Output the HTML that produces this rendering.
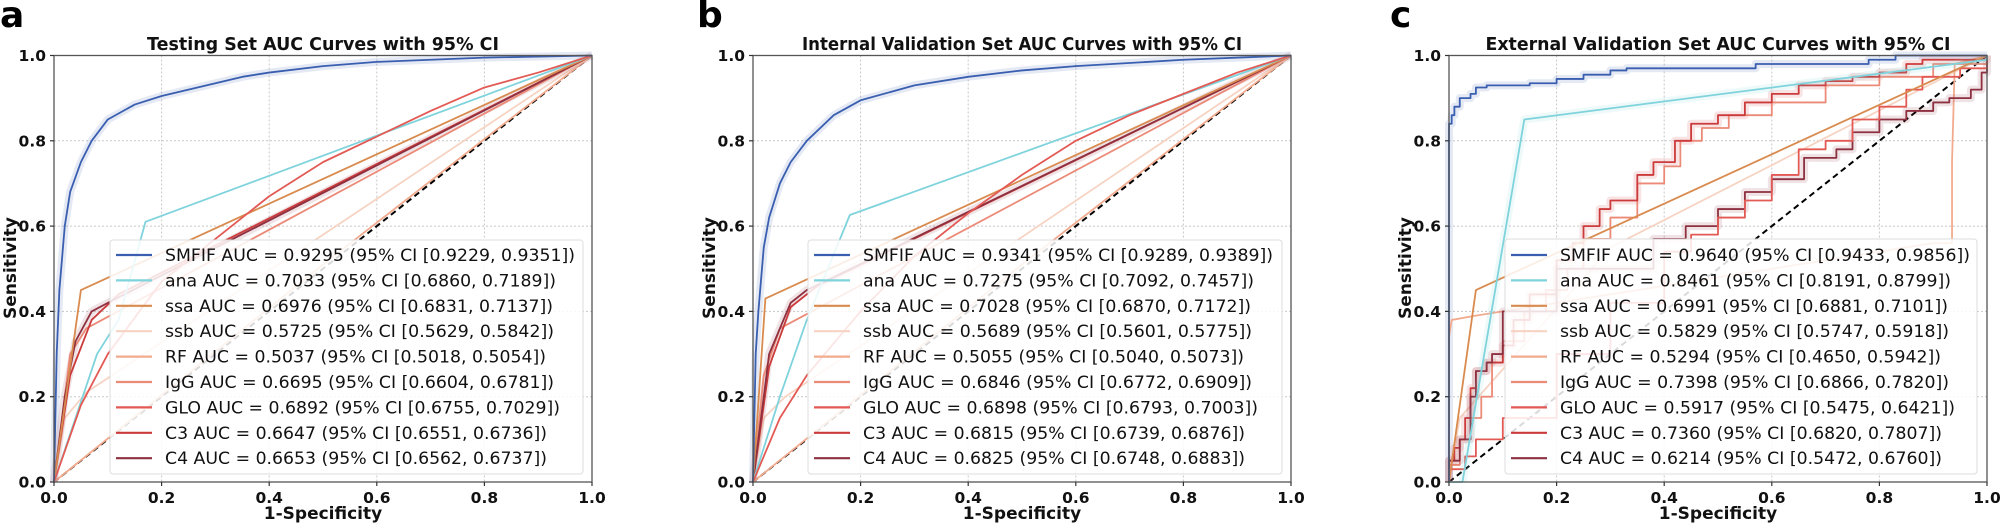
<!DOCTYPE html>
<html><head><meta charset="utf-8"><style>
html,body{margin:0;padding:0;background:#fff;}
svg{display:block;}
text{font-family:"DejaVu Sans","Liberation Sans",sans-serif;}
.tk{font-size:15.5px;font-weight:bold;fill:#111;}
.ti{font-size:18px;font-weight:bold;fill:#111;}
.lb{font-size:17px;font-weight:bold;fill:#111;}
.lg{font-size:16.5px;fill:#111;}
.pl{font-size:36px;font-weight:bold;fill:#000;}
.grid{stroke:#c8c8c8;stroke-width:1;stroke-dasharray:2,2;}
.c path,.c polyline{fill:none;vector-effect:non-scaling-stroke;stroke-linejoin:round;}
.band{stroke-width:8;opacity:0.13;}
.ln{stroke-width:1.8;}
</style></head><body>
<svg width="2000" height="524" viewBox="0 0 2000 524" xmlns="http://www.w3.org/2000/svg">
<defs>
<g id="axes">
  <rect x="0" y="55.5" width="538" height="426.5" fill="#fff"/>
  <g class="grid">
    <line x1="107.6" y1="55.5" x2="107.6" y2="482"/><line x1="215.2" y1="55.5" x2="215.2" y2="482"/>
    <line x1="322.8" y1="55.5" x2="322.8" y2="482"/><line x1="430.4" y1="55.5" x2="430.4" y2="482"/>
    <line x1="0" y1="396.7" x2="538" y2="396.7"/><line x1="0" y1="311.4" x2="538" y2="311.4"/>
    <line x1="0" y1="226.1" x2="538" y2="226.1"/><line x1="0" y1="140.8" x2="538" y2="140.8"/>
  </g>
</g>
<g id="frame">
  <rect x="0" y="55.5" width="538" height="426.5" fill="none" stroke="#555" stroke-width="1.3"/>
  <g stroke="#333" stroke-width="1.2">
    <line x1="0" y1="482" x2="0" y2="486"/><line x1="107.6" y1="482" x2="107.6" y2="486"/><line x1="215.2" y1="482" x2="215.2" y2="486"/><line x1="322.8" y1="482" x2="322.8" y2="486"/><line x1="430.4" y1="482" x2="430.4" y2="486"/><line x1="538" y1="482" x2="538" y2="486"/>
    <line x1="-4" y1="482" x2="0" y2="482"/><line x1="-4" y1="396.7" x2="0" y2="396.7"/><line x1="-4" y1="311.4" x2="0" y2="311.4"/><line x1="-4" y1="226.1" x2="0" y2="226.1"/><line x1="-4" y1="140.8" x2="0" y2="140.8"/><line x1="-4" y1="55.5" x2="0" y2="55.5"/>
  </g>
  <g class="tk" text-anchor="middle">
    <text x="0" y="503">0.0</text><text x="107.6" y="503">0.2</text><text x="215.2" y="503">0.4</text><text x="322.8" y="503">0.6</text><text x="430.4" y="503">0.8</text><text x="538" y="503">1.0</text>
  </g>
  <g class="tk" text-anchor="end">
    <text x="-8" y="487.5">0.0</text><text x="-8" y="402.2">0.2</text><text x="-8" y="316.9">0.4</text><text x="-8" y="231.6">0.6</text><text x="-8" y="146.3">0.8</text><text x="-8" y="61">1.0</text>
  </g>
  <text class="lb" x="269" y="519" text-anchor="middle">1-Specificity</text>
  <text class="lb" transform="translate(-38,268) rotate(-90)" text-anchor="middle">Sensitivity</text>
</g>
<g id="handles">
  <g stroke-width="2.2">
  <line x1="6" y1="255" x2="42" y2="255" stroke="#3a5fb0"/>
  <line x1="6" y1="280.4" x2="42" y2="280.4" stroke="#7fd3dc"/>
  <line x1="6" y1="305.8" x2="42" y2="305.8" stroke="#d98b4f"/>
  <line x1="6" y1="331.2" x2="42" y2="331.2" stroke="#f6d3c2"/>
  <line x1="6" y1="356.6" x2="42" y2="356.6" stroke="#f2ab8e"/>
  <line x1="6" y1="382" x2="42" y2="382" stroke="#ec8a78"/>
  <line x1="6" y1="407.4" x2="42" y2="407.4" stroke="#e35a55"/>
  <line x1="6" y1="432.8" x2="42" y2="432.8" stroke="#cc3b3b"/>
  <line x1="6" y1="458.2" x2="42" y2="458.2" stroke="#8e3040"/>
  </g>
</g>
</defs>

<!-- ================= PANEL A ================= -->
<text class="pl" x="0" y="27">a</text>
<g transform="translate(54,0)">
  <use href="#axes"/>
  <text class="ti" x="269" y="50" text-anchor="middle" textLength="352" lengthAdjust="spacingAndGlyphs">Testing Set AUC Curves with 95% CI</text>
</g>
<g class="c" transform="translate(54,482) scale(538,-426.5)">
  <polyline points="0,0 1,1" stroke="#000" stroke-width="2" style="stroke-dasharray:6,4" vector-effect="non-scaling-stroke"/>
  <polyline class="band" stroke="#3a5fb0" points="0,0 0.005,0.3 0.01,0.45 0.02,0.6 0.03,0.68 0.05,0.75 0.07,0.8 0.1,0.85 0.15,0.885 0.2,0.905 0.25,0.92 0.3,0.935 0.35,0.95 0.4,0.96 0.5,0.975 0.6,0.985 0.7,0.99 0.8,0.995 1,1"/>
  <polyline class="ln" stroke="#f2ab8e" points="0,0 0.5,0.51 1,1"/>
  <polyline class="ln" stroke="#f6d3c2" points="0,0 0.02,0.15 0.06,0.21 1,1"/>
  <polyline class="band" stroke="#8e3040" points="0,0 0.02,0.2 0.04,0.33 0.07,0.4 0.1,0.42 1,1"/>
  <polyline class="ln" stroke="#ec8a78" points="0,0 0.03,0.3 0.06,0.36 1,1"/>
  <polyline class="ln" stroke="#cc3b3b" points="0,0 0.03,0.25 0.07,0.38 0.12,0.44 1,1"/>
  <polyline class="ln" stroke="#8e3040" points="0,0 0.02,0.2 0.04,0.33 0.07,0.4 0.1,0.42 1,1"/>
  <polyline class="ln" stroke="#d98b4f" points="0,0 0.05,0.45 1,1"/>
  <polyline class="ln" stroke="#7fd3dc" points="0,0 0.08,0.3 0.12,0.38 0.17,0.61 1,1"/>
  <polyline class="ln" stroke="#e35a55" points="0,0 0.05,0.18 0.1,0.3 0.2,0.47 0.3,0.57 0.4,0.67 0.5,0.75 0.6,0.81 0.7,0.87 0.8,0.925 0.9,0.96 1,1"/>
  <polyline class="ln" stroke="#3a5fb0" points="0,0 0.005,0.3 0.01,0.45 0.02,0.6 0.03,0.68 0.05,0.75 0.07,0.8 0.1,0.85 0.15,0.885 0.2,0.905 0.25,0.92 0.3,0.935 0.35,0.95 0.4,0.96 0.5,0.975 0.6,0.985 0.7,0.99 0.8,0.995 1,1"/>
</g>
<g transform="translate(54,0)">
  <use href="#frame"/>
  <rect x="56" y="240" width="473" height="234" rx="3" fill="#fff" fill-opacity="0.85" stroke="#ddd"/>
  <g transform="translate(56,0)">
    <use href="#handles"/>
    <g class="lg" lengthAdjust="spacingAndGlyphs">
      <text x="55" y="261" textLength="410" lengthAdjust="spacingAndGlyphs">SMFIF AUC = 0.9295 (95% CI [0.9229, 0.9351])</text>
      <text x="55" y="286.4" textLength="391" lengthAdjust="spacingAndGlyphs">ana AUC = 0.7033 (95% CI [0.6860, 0.7189])</text>
      <text x="55" y="311.8" textLength="388" lengthAdjust="spacingAndGlyphs">ssa AUC = 0.6976 (95% CI [0.6831, 0.7137])</text>
      <text x="55" y="337.2" textLength="389" lengthAdjust="spacingAndGlyphs">ssb AUC = 0.5725 (95% CI [0.5629, 0.5842])</text>
      <text x="55" y="362.6" textLength="381" lengthAdjust="spacingAndGlyphs">RF AUC = 0.5037 (95% CI [0.5018, 0.5054])</text>
      <text x="55" y="388" textLength="389" lengthAdjust="spacingAndGlyphs">IgG AUC = 0.6695 (95% CI [0.6604, 0.6781])</text>
      <text x="55" y="413.4" textLength="395" lengthAdjust="spacingAndGlyphs">GLO AUC = 0.6892 (95% CI [0.6755, 0.7029])</text>
      <text x="55" y="438.8" textLength="382" lengthAdjust="spacingAndGlyphs">C3 AUC = 0.6647 (95% CI [0.6551, 0.6736])</text>
      <text x="55" y="464.2" textLength="382" lengthAdjust="spacingAndGlyphs">C4 AUC = 0.6653 (95% CI [0.6562, 0.6737])</text>
    </g>
  </g>
</g>

<!-- ================= PANEL B ================= -->
<text class="pl" x="697" y="27">b</text>
<g transform="translate(753,0)">
  <use href="#axes"/>
  <text class="ti" x="269" y="50" text-anchor="middle" textLength="440" lengthAdjust="spacingAndGlyphs">Internal Validation Set AUC Curves with 95% CI</text>
</g>
<g class="c" transform="translate(753,482) scale(538,-426.5)">
  <polyline points="0,0 1,1" stroke="#000" stroke-width="2" style="stroke-dasharray:6,4" vector-effect="non-scaling-stroke"/>
  <polyline class="band" stroke="#3a5fb0" points="0,0 0.005,0.3 0.01,0.4 0.02,0.55 0.03,0.62 0.05,0.7 0.07,0.75 0.1,0.8 0.15,0.86 0.2,0.895 0.3,0.93 0.4,0.95 0.5,0.965 0.6,0.975 0.8,0.99 1,1"/>
  <polyline class="ln" stroke="#f2ab8e" points="0,0 0.5,0.51 1,1"/>
  <polyline class="ln" stroke="#f6d3c2" points="0,0 0.02,0.15 0.06,0.2 1,1"/>
  <polyline class="band" stroke="#8e3040" points="0,0 0.03,0.3 0.07,0.42 0.1,0.45 1,1"/>
  <polyline class="ln" stroke="#ec8a78" points="0,0 0.02,0.25 0.05,0.36 1,1"/>
  <polyline class="ln" stroke="#cc3b3b" points="0,0 0.03,0.27 0.07,0.41 0.12,0.46 1,1"/>
  <polyline class="ln" stroke="#8e3040" points="0,0 0.03,0.3 0.07,0.42 0.1,0.45 1,1"/>
  <polyline class="ln" stroke="#d98b4f" points="0,0 0.023,0.43 1,1"/>
  <polyline class="ln" stroke="#7fd3dc" points="0,0 0.05,0.2 0.1,0.38 0.18,0.626 1,1"/>
  <polyline class="ln" stroke="#e35a55" points="0,0 0.05,0.15 0.1,0.25 0.2,0.4 0.3,0.53 0.4,0.63 0.5,0.72 0.6,0.8 0.7,0.86 0.8,0.91 0.9,0.96 1,1"/>
  <polyline class="ln" stroke="#3a5fb0" points="0,0 0.005,0.3 0.01,0.4 0.02,0.55 0.03,0.62 0.05,0.7 0.07,0.75 0.1,0.8 0.15,0.86 0.2,0.895 0.3,0.93 0.4,0.95 0.5,0.965 0.6,0.975 0.8,0.99 1,1"/>
</g>
<g transform="translate(753,0)">
  <use href="#frame"/>
  <rect x="55" y="240" width="474" height="234" rx="3" fill="#fff" fill-opacity="0.85" stroke="#ddd"/>
  <g transform="translate(55,0)">
    <use href="#handles"/>
    <g class="lg">
      <text x="55" y="261" textLength="410" lengthAdjust="spacingAndGlyphs">SMFIF AUC = 0.9341 (95% CI [0.9289, 0.9389])</text>
      <text x="55" y="286.4" textLength="391" lengthAdjust="spacingAndGlyphs">ana AUC = 0.7275 (95% CI [0.7092, 0.7457])</text>
      <text x="55" y="311.8" textLength="388" lengthAdjust="spacingAndGlyphs">ssa AUC = 0.7028 (95% CI [0.6870, 0.7172])</text>
      <text x="55" y="337.2" textLength="389" lengthAdjust="spacingAndGlyphs">ssb AUC = 0.5689 (95% CI [0.5601, 0.5775])</text>
      <text x="55" y="362.6" textLength="381" lengthAdjust="spacingAndGlyphs">RF AUC = 0.5055 (95% CI [0.5040, 0.5073])</text>
      <text x="55" y="388" textLength="389" lengthAdjust="spacingAndGlyphs">IgG AUC = 0.6846 (95% CI [0.6772, 0.6909])</text>
      <text x="55" y="413.4" textLength="395" lengthAdjust="spacingAndGlyphs">GLO AUC = 0.6898 (95% CI [0.6793, 0.7003])</text>
      <text x="55" y="438.8" textLength="382" lengthAdjust="spacingAndGlyphs">C3 AUC = 0.6815 (95% CI [0.6739, 0.6876])</text>
      <text x="55" y="464.2" textLength="382" lengthAdjust="spacingAndGlyphs">C4 AUC = 0.6825 (95% CI [0.6748, 0.6883])</text>
    </g>
  </g>
</g>

<!-- ================= PANEL C ================= -->
<text class="pl" x="1390" y="27">c</text>
<g transform="translate(1449,0)">
  <use href="#axes"/>
  <text class="ti" x="269" y="50" text-anchor="middle" textLength="465" lengthAdjust="spacingAndGlyphs">External Validation Set AUC Curves with 95% CI</text>
</g>
<g class="c" transform="translate(1449,482) scale(538,-426.5)">
  <polyline points="0,0 1,1" stroke="#000" stroke-width="2" style="stroke-dasharray:6,4" vector-effect="non-scaling-stroke"/>
  <path class="band" stroke="#3a5fb0" d="M0 0 V0.84 H0.005 V0.86 H0.01 V0.88 H0.02 V0.9 H0.04 V0.91 H0.05 V0.925 H0.07 V0.93 H0.15 V0.935 H0.2 V0.945 H0.25 V0.955 H0.3 V0.965 H0.33 V0.97 H0.57 V0.98 H0.78 V0.99 H0.83 V1 H1"/>
  <polyline class="ln" stroke="#f6d3c2" points="0,0 0.02,0.15 0.3,0.55 1,1"/>
  <polyline class="ln" stroke="#f2ab8e" points="0,0 0,0.34 0.005,0.38 0.05,0.39 0.9,0.56 0.935,0.56 0.935,0.75 0.94,0.98 1,1"/>
  <path class="band" stroke="#cc3b3b" d="M0 0 V0.05 H0.01 V0.08 H0.02 V0.1 H0.03 V0.15 H0.04 V0.22 H0.05 V0.26 H0.07 V0.28 H0.1 V0.32 H0.12 V0.38 H0.15 V0.44 H0.2 V0.52 H0.23 V0.56 H0.25 V0.6 H0.28 V0.64 H0.3 V0.66 H0.35 V0.72 H0.38 V0.75 H0.42 V0.8 H0.45 V0.84 H0.5 V0.86 H0.55 V0.89 H0.6 V0.91 H0.65 V0.93 H0.7 V0.94 H0.75 V0.95 H0.8 V0.96 H0.85 V0.98 H0.88 V0.99 H1 V1"/>
  <path class="ln" stroke="#ec8a78" d="M0 0 V0.04 H0.02 V0.1 H0.04 V0.15 H0.06 V0.2 H0.08 V0.28 H0.1 V0.33 H0.14 V0.4 H0.18 V0.45 H0.22 V0.5 H0.25 V0.57 H0.3 V0.62 H0.35 V0.7 H0.4 V0.74 H0.43 V0.8 H0.47 V0.83 H0.52 V0.86 H0.6 V0.89 H0.7 V0.93 H0.8 V0.95 H0.9 V0.98 H1 V1"/>
  <path class="ln" stroke="#cc3b3b" d="M0 0 V0.05 H0.01 V0.08 H0.02 V0.1 H0.03 V0.15 H0.04 V0.22 H0.05 V0.26 H0.07 V0.28 H0.1 V0.32 H0.12 V0.38 H0.15 V0.44 H0.2 V0.52 H0.23 V0.56 H0.25 V0.6 H0.28 V0.64 H0.3 V0.66 H0.35 V0.72 H0.38 V0.75 H0.42 V0.8 H0.45 V0.84 H0.5 V0.86 H0.55 V0.89 H0.6 V0.91 H0.65 V0.93 H0.7 V0.94 H0.75 V0.95 H0.8 V0.96 H0.85 V0.98 H0.88 V0.99 H1 V1"/>
  <path class="band" stroke="#8e3040" d="M0 0 V0.05 H0.02 V0.1 H0.04 V0.2 H0.05 V0.26 H0.07 V0.28 H0.08 V0.3 H0.1 V0.4 H0.2 V0.5 H0.38 V0.57 H0.44 V0.6 H0.5 V0.64 H0.55 V0.68 H0.6 V0.71 H0.66 V0.76 H0.72 V0.78 H0.75 V0.82 H0.8 V0.85 H0.85 V0.87 H0.9 V0.89 H0.93 V0.9 H0.97 V0.92 H0.99 V0.96 H1 V1"/>
  <path class="ln" stroke="#8e3040" d="M0 0 V0.05 H0.02 V0.1 H0.04 V0.2 H0.05 V0.26 H0.07 V0.28 H0.08 V0.3 H0.1 V0.4 H0.2 V0.5 H0.38 V0.57 H0.44 V0.6 H0.5 V0.64 H0.55 V0.68 H0.6 V0.71 H0.66 V0.76 H0.72 V0.78 H0.75 V0.82 H0.8 V0.85 H0.85 V0.87 H0.9 V0.89 H0.93 V0.9 H0.97 V0.92 H0.99 V0.96 H1 V1"/>
  <path class="ln" stroke="#e35a55" d="M0 0 V0.03 H0.03 V0.06 H0.05 V0.1 H0.1 V0.15 H0.2 V0.3 H0.3 V0.42 H0.4 V0.54 H0.45 V0.58 H0.5 V0.62 H0.55 V0.66 H0.6 V0.72 H0.65 V0.78 H0.7 V0.8 H0.75 V0.85 H0.8 V0.88 H0.85 V0.92 H0.88 V0.95 H0.95 V0.97 H1 V1"/>
  <polyline class="ln" stroke="#d98b4f" points="0,0 0.05,0.45 1,1"/>
  <polyline class="band" stroke="#7fd3dc" points="0.025,0 0.14,0.85 1,0.99"/>
  <polyline class="ln" stroke="#7fd3dc" points="0,0 0.025,0 0.14,0.85 1,0.99 1,1"/>
  <path class="ln" stroke="#3a5fb0" d="M0 0 V0.84 H0.005 V0.86 H0.01 V0.88 H0.02 V0.9 H0.04 V0.91 H0.05 V0.925 H0.07 V0.93 H0.15 V0.935 H0.2 V0.945 H0.25 V0.955 H0.3 V0.965 H0.33 V0.97 H0.57 V0.98 H0.78 V0.99 H0.83 V1 H1"/>
</g>
<g transform="translate(1449,0)">
  <use href="#frame"/>
  <rect x="56" y="239" width="472" height="235" rx="3" fill="#fff" fill-opacity="0.85" stroke="#ddd"/>
  <g transform="translate(56,0)">
    <use href="#handles"/>
    <g class="lg">
      <text x="55" y="261" textLength="410" lengthAdjust="spacingAndGlyphs">SMFIF AUC = 0.9640 (95% CI [0.9433, 0.9856])</text>
      <text x="55" y="286.4" textLength="391" lengthAdjust="spacingAndGlyphs">ana AUC = 0.8461 (95% CI [0.8191, 0.8799])</text>
      <text x="55" y="311.8" textLength="388" lengthAdjust="spacingAndGlyphs">ssa AUC = 0.6991 (95% CI [0.6881, 0.7101])</text>
      <text x="55" y="337.2" textLength="389" lengthAdjust="spacingAndGlyphs">ssb AUC = 0.5829 (95% CI [0.5747, 0.5918])</text>
      <text x="55" y="362.6" textLength="381" lengthAdjust="spacingAndGlyphs">RF AUC = 0.5294 (95% CI [0.4650, 0.5942])</text>
      <text x="55" y="388" textLength="389" lengthAdjust="spacingAndGlyphs">IgG AUC = 0.7398 (95% CI [0.6866, 0.7820])</text>
      <text x="55" y="413.4" textLength="395" lengthAdjust="spacingAndGlyphs">GLO AUC = 0.5917 (95% CI [0.5475, 0.6421])</text>
      <text x="55" y="438.8" textLength="382" lengthAdjust="spacingAndGlyphs">C3 AUC = 0.7360 (95% CI [0.6820, 0.7807])</text>
      <text x="55" y="464.2" textLength="382" lengthAdjust="spacingAndGlyphs">C4 AUC = 0.6214 (95% CI [0.5472, 0.6760])</text>
    </g>
  </g>
</g>
</svg>
</body></html>
